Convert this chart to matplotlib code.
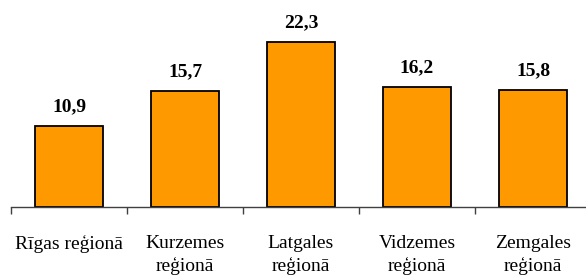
import matplotlib.pyplot as plt

regions = ["Rīgas reģionā", "Kurzemes\nreģionā", "Latgales\nreģionā", "Vidzemes\nreģionā", "Zemgales\nreģionā"]
values = [10.9, 15.7, 22.3, 16.2, 15.8]
value_labels = ["10,9", "15,7", "22,3", "16,2", "15,8"]

plt.rcParams['font.family'] = ['Liberation Serif', 'DejaVu Serif']

fig = plt.figure(figsize=(5.86, 2.75), dpi=100)
ax = fig.add_axes([11 / 586, 68 / 275, 580 / 586, 207 / 275])

x = list(range(len(regions)))
bars = ax.bar(x, values, width=0.586, color="#FF9900", edgecolor="black", linewidth=1.3)

for xi, v, lab in zip(x, values, value_labels):
    ax.annotate(lab, (xi, v), xytext=(0, 8), textcoords="offset points",
                ha="center", va="bottom", fontsize=14, fontweight="bold")

ax.set_xlim(-0.5, len(regions) - 0.5)
ax.set_ylim(0, 28)
ax.set_yticks([])
ax.set_xticks(x)
ax.set_xticklabels(regions, fontsize=14, linespacing=1.4)
ax.set_xticks([i - 0.5 for i in range(len(regions) + 1)], minor=True)
ax.tick_params(axis="x", which="major", length=0, pad=20)
ax.tick_params(axis="x", which="minor", length=5, width=1, color="#404040")

for side in ["top", "right", "left"]:
    ax.spines[side].set_visible(False)
ax.spines["bottom"].set_color("#404040")
ax.spines["bottom"].set_linewidth(1)

fig.savefig("out.png", dpi=100)
